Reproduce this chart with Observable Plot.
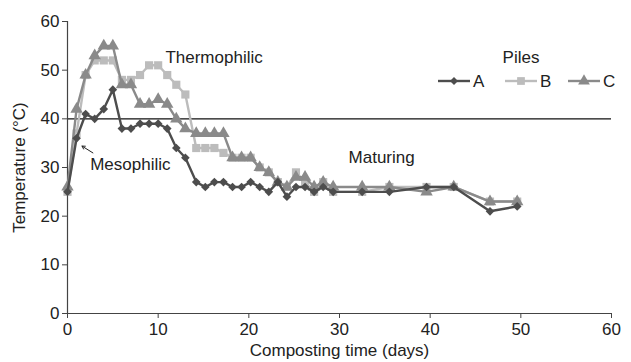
<!DOCTYPE html>
<html><head><meta charset="utf-8">
<script src="https://cdn.jsdelivr.net/npm/d3@7"></script>
<script src="https://cdn.jsdelivr.net/npm/@observablehq/plot@0.6"></script>
<style>
body{margin:0;background:#fff;font-family:"Liberation Sans",Arial,sans-serif;}
#wrap{position:relative;width:631px;height:362px;}
#legend{position:absolute;left:430px;top:46px;font-size:17px;color:#222;}
</style></head><body>
<div id="wrap"></div>
<script>
// ---- data ----
const days  = [0,1,2,3,4,5,6,7,8,9,10,11,12,13,14.2,15.2,16.2,17.2,18.2,19.2,20.2,21.2,22.2,23.2,24.2,25.2,26.2,27.2,28.2,29.3,32.5,35.5,39.6,42.6,46.6,49.6];
const pileA = [25,36,41,40,42,46,38,38,39,39,39,38,34,32,27,26,27,27,26,26,27,26,25,27,24,26,26,25,26,25,25,25,26,26,21,22];
const pileB = [25,37,49,52,52,52,48,48,49,51,51,49,47,45,34,34,34,33,32,32,32,30,29,27,26,29,27,25,27,25,25,26,26,26,23,23];
const pileC = [26,42,49,53,55,55,47,47,43,43,44,43,40,38,37,37,37,37,32,32,32,30,29,27,26,28,28,26,27,26,26,26,25,26,23,23];
const piles = ["A","B","C"];
const pileColors = ["#4d4d4d","#bcbcbc","#8a8a8a"];
const pileSymbols = ["diamond2","square","triangle"];
const xTicks = [0,10,20,30,40,50,60];
const yTicks = [0,10,20,30,40,50,60];
const thresholdTemp = [40];
const phaseLabels = ["Thermophilic","Mesophilic","Maturing"];
const phaseDays   = [10.8, 2.5, 31];
const phaseTemps  = [52.5, 30.7, 32];
const arrowFrom = {day: 2.8, temp: 33.0};
const arrowTo   = {day: 1.6, temp: 34.4};

// ---- build table ----
const series = {A: pileA, B: pileB, C: pileC};
const rows = k => series[k].map((t, i) => ({pile: k, day: days[i], temp: t}));
const drawOrder = ["B","C","A"];
const phases = phaseLabels.map((l, i) => ({label: l, day: phaseDays[i], temp: phaseTemps[i]}));

const marks = [
  Plot.ruleY(thresholdTemp, {stroke: "#111", strokeWidth: 1.2}),
  Plot.ruleX([0], {stroke: "#444", strokeWidth: 1.2}),
  Plot.ruleY([0], {stroke: "#444", strokeWidth: 1.2}),
  Plot.axisX({ticks: xTicks, tickSize: 5, tickPadding: 4, label: "Composting time (days)", labelAnchor: "center", labelArrow: "none", labelOffset: 42, stroke: "#444"}),
  Plot.axisY({ticks: yTicks, tickSize: 5, tickPadding: 3, label: "Temperature (°C)", labelAnchor: "center", labelArrow: "none", labelOffset: 55, stroke: "#444"})
];
for (const k of drawOrder) {
  marks.push(Plot.line(rows(k), {x: "day", y: "temp", stroke: "pile", strokeWidth: 2.4}));
  marks.push(Plot.dot(rows(k), {x: "day", y: "temp", fill: "pile", symbol: "pile", r: k === "A" ? 3.9 : 4.6, stroke: "none"}));
}
marks.push(Plot.text(phases, {x: "day", y: "temp", text: "label", textAnchor: "start", fill: "#222", fontSize: 17}));
marks.push(Plot.arrow([arrowFrom], {x1: "day", y1: "temp", x2: () => arrowTo.day, y2: () => arrowTo.temp, stroke: "#222", strokeWidth: 1, headLength: 5}));

const chart = Plot.plot({
  width: 631, height: 362,
  marginLeft: 67, marginRight: 20, marginTop: 21, marginBottom: 49,
  style: {fontSize: "17px", fontFamily: "'Liberation Sans', Arial, sans-serif", color: "#222", background: "#fff"},
  x: {domain: [0, 60]},
  y: {domain: [0, 60]},
  color: {domain: piles, range: pileColors},
  symbol: {domain: piles, range: pileSymbols},
  marks
});
const wrap = document.getElementById("wrap");
wrap.appendChild(chart);

// ---- legend (HTML overlay) ----
const lg = document.createElement("div");
lg.id = "legend";
const W = 190, H = 48;
const svg = d3.create("svg").attr("width", W).attr("height", H).style("overflow", "visible");
svg.append("text").attr("x", 91).attr("y", 17).attr("text-anchor", "middle").attr("font-size", 17).attr("fill", "#222").text("Piles");
piles.forEach((p, i) => {
  const x0 = [8, 75, 138][i];
  const g = svg.append("g").attr("transform", `translate(${x0},35)`);
  g.append("line").attr("x1", 0).attr("x2", 32).attr("stroke", pileColors[i]).attr("stroke-width", 2.4);
  const sym = {diamond2: d3.symbolDiamond2, square: d3.symbolSquare, triangle: d3.symbolTriangle}[pileSymbols[i]];
  g.append("path").attr("transform", "translate(16,0)").attr("d", d3.symbol(sym, i === 0 ? 40 : 60)()).attr("fill", pileColors[i]);
  g.append("text").attr("x", 35).attr("y", 6).attr("font-size", 17).attr("fill", "#222").text(p);
});
lg.appendChild(svg.node());
wrap.appendChild(lg);
</script>
</body></html>
